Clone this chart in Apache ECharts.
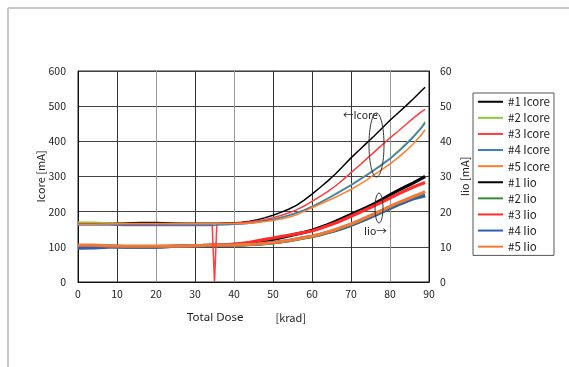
<!DOCTYPE html>
<html>
<head>
<meta charset="utf-8">
<script src="https://cdn.jsdelivr.net/npm/echarts@6/dist/echarts.min.js"></script>
<style>
html,body{margin:0;padding:0;background:#fff;}
#chart{width:569px;height:367px;}
</style>
</head>
<body>
<div id="chart"></div>
<script>
// Total dose [krad]
var dose = [0,4,8,12,16,20,24,28,32,34.4,35,35.6,38,40,42,44,46,48,50,52,54,56,58,60,62,64,66,68,70,72,74,76,78,80,82,84,86,88,89];

// Icore [mA] (left axis)
var icore1 = [166,166,167,168,169,169,168,167,167,167,167,167,168,168,170,173,177,183,190,198,207,218,233,250,268,287,307,330,353,374,395,416,438,460,480,500,521,543,554];
var icore2 = [170,170,168,166,165,165,165,165,165,165,165,165,165,165,166,168,171,175,179,184,190,197,205,215,226,238,251,264,277,291,305,320,336,352,372,393,415,440,457];
var icore3 = [165,165,164,163,163,164,165,165,165,165,0,166,166,167,169,171,174,178,183,189,196,205,216,229,243,257,273,291,311,330,350,370,390,410,428,447,466,484,491];
var icore4 = [162,162,162,161,161,161,161,161,161,161,161,162,163,164,165,167,170,174,178,183,189,196,204,214,225,237,249,262,275,289,303,318,334,350,369,390,412,437,452];
var icore5 = [164,164,165,166,166,166,166,166,166,166,166,166,166,166,166,167,169,172,175,179,184,191,201,211,221,231,241,252,263,276,290,305,320,336,353,372,393,418,433];

// Iio [mA] (right axis)
var iio1 = [10.2,10.2,10.1,10.0,10.0,10.0,10.1,10.2,10.3,10.4,10.4,10.4,10.5,10.6,10.8,11.0,11.3,11.7,12.1,12.6,13.1,13.6,14.1,14.7,15.5,16.3,17.2,18.2,19.2,20.2,21.2,22.3,23.5,24.8,26.0,27.1,28.2,29.4,30.0];
var iio2 = [10.3,10.3,10.2,10.1,10.0,10.0,10.1,10.2,10.3,10.4,10.4,10.4,10.4,10.4,10.5,10.6,10.7,10.9,11.1,11.4,11.7,12.1,12.5,12.9,13.4,14.0,14.6,15.3,16.1,17.0,17.9,18.9,19.9,20.9,21.9,22.8,23.7,24.2,24.5];
var iio3 = [10.3,10.3,10.2,10.1,10.1,10.1,10.2,10.3,10.4,10.5,10.5,10.5,10.6,10.8,11.0,11.3,11.7,12.1,12.5,12.9,13.3,13.7,14.1,14.5,15.2,16.0,16.8,17.7,18.7,19.7,20.7,21.7,22.8,23.9,25.0,26.0,27.0,27.9,28.3];
var iio4 = [9.6,9.7,9.9,10.0,10.0,10.0,10.1,10.2,10.3,10.4,10.4,10.4,10.4,10.5,10.6,10.7,10.8,11.0,11.2,11.5,11.8,12.2,12.6,13.0,13.5,14.1,14.7,15.4,16.2,17.1,18.0,19.0,20.0,21.0,22.0,22.9,23.8,24.4,24.7];
var iio5 = [10.5,10.5,10.3,10.2,10.2,10.2,10.2,10.3,10.4,10.5,10.5,10.5,10.5,10.5,10.6,10.7,10.8,11.0,11.2,11.5,11.8,12.2,12.6,13.0,13.6,14.2,14.9,15.7,16.5,17.4,18.4,19.4,20.4,21.5,22.5,23.4,24.3,25.2,25.7];

var icoreNames = ['#1 Icore','#2 Icore','#3 Icore','#4 Icore','#5 Icore'];
var iioNames = ['#1 Iio','#2 Iio','#3 Iio','#4 Iio','#5 Iio'];
var icoreColors = ['#000000','#8CC63F','#FF3B3B','#3C78C8','#FF7F2A'];
var iioColors = ['#000000','#3A8A3A','#FF2A2A','#2F5FB0','#F07A35'];

function pairs(v){ return dose.map(function(d,i){ return [d, v[i]]; }); }

var FONT = '"Noto Sans CJK JP", sans-serif';
var series = [];
[icore1,icore2,icore3,icore4,icore5].forEach(function(v,i){
  series.push({name:icoreNames[i], type:'line', yAxisIndex:0, data:pairs(v), symbol:'none',
    lineStyle:{width:1.5,color:icoreColors[i]}, itemStyle:{color:icoreColors[i]}, z:3});
});
[iio1,iio2,iio3,iio4,iio5].forEach(function(v,i){
  series.push({name:iioNames[i], type:'line', yAxisIndex:1, data:pairs(v), symbol:'none',
    lineStyle:{width:3.2,color:iioColors[i]}, itemStyle:{color:iioColors[i]}, z:2});
});

var chart = echarts.init(document.getElementById('chart'), null, {renderer:'canvas'});
chart.setOption({
  animation:false,
  backgroundColor:'#fff',
  grid:{left:78, right:140, top:71, bottom:85, show:true, borderColor:'#222', borderWidth:1},
  legend:{
    orient:'vertical', left:473, top:93, padding:[3,4,3,4],
    borderColor:'#555', borderWidth:1, itemWidth:25, itemHeight:12, itemGap:4.6,
    itemStyle:{opacity:0},
    textStyle:{fontFamily:FONT, fontSize:11.5, color:'#222'},
    data: icoreNames.concat(iioNames)
  },
  xAxis:{
    type:'value', min:0, max:90, interval:10,
    axisLine:{lineStyle:{color:'#111'}}, axisTick:{show:false},
    axisLabel:{fontFamily:FONT, fontSize:10.5, color:'#222', margin:7},
    splitLine:{show:true, lineStyle:{color:['#333','#333','#999','#333','#999','#333','#333','#333','#999','#333'], width:1}},
    name:'{a|Total Dose}{s|}{b|[krad]}', nameLocation:'middle', nameGap:30,
    nameTextStyle:{padding:[0,14,0,0], rich:{
      a:{fontFamily:'"Noto Sans", sans-serif', fontSize:11.5, color:'#222'},
      s:{width:32},
      b:{fontFamily:FONT, fontSize:11, color:'#222'}
    }}
  },
  yAxis:[{
    type:'value', min:0, max:600, interval:100,
    axisLine:{show:true, lineStyle:{color:'#111'}}, axisTick:{show:false},
    axisLabel:{fontFamily:FONT, fontSize:10.5, color:'#222', margin:12},
    splitLine:{show:true, lineStyle:{color:'#444', width:1}},
    name:'Icore [mA]', nameLocation:'middle', nameGap:32, nameRotate:90, nameMoveOverlap:false,
    nameTextStyle:{fontFamily:FONT, fontSize:11, color:'#222'}
  },{
    type:'value', min:0, max:60, interval:10, position:'right',
    axisLine:{show:true, lineStyle:{color:'#111'}}, axisTick:{show:false},
    axisLabel:{fontFamily:FONT, fontSize:10.5, color:'#222', margin:11},
    splitLine:{show:false},
    name:'Iio [mA]', nameLocation:'middle', nameGap:30, nameRotate:90, nameMoveOverlap:false,
    nameTextStyle:{fontFamily:FONT, fontSize:11, color:'#222'}
  }],
  graphic:[
    {type:'line', shape:{x1:8,y1:8,x2:569,y2:8}, style:{stroke:'#c8c8c8', lineWidth:2}, silent:true},
    {type:'line', shape:{x1:8,y1:8,x2:8,y2:367}, style:{stroke:'#c8c8c8', lineWidth:2}, silent:true},
    {type:'text', left:343, top:110, style:{text:'←Icore', fontFamily:FONT, fontSize:10.5, fill:'#222'}, z:10},
    {type:'ellipse', shape:{cx:376.5, cy:145, rx:7.5, ry:32}, style:{fill:'none', stroke:'#333', lineWidth:1}, z:10},
    {type:'text', left:364, top:226, style:{text:'Iio→', fontFamily:FONT, fontSize:10.5, fill:'#222'}, z:10},
    {type:'ellipse', shape:{cx:379, cy:208, rx:4, ry:15}, style:{fill:'none', stroke:'#333', lineWidth:1}, z:10}
  ],
  series:series
});
</script>
</body>
</html>
